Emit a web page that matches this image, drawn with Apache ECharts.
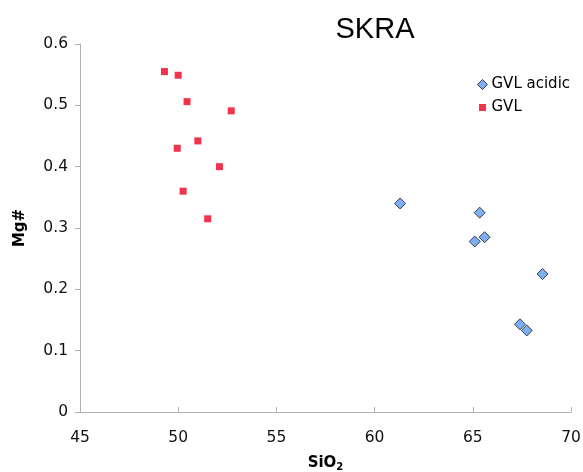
<!DOCTYPE html>
<html>
<head>
<meta charset="utf-8">
<script src="https://cdn.jsdelivr.net/npm/echarts@6/dist/echarts.min.js"></script>
<style>
  html, body { margin: 0; padding: 0; background: #fff; }
  #chart { width: 583px; height: 472px; }
</style>
</head>
<body>
<div id="chart"></div>
<script>
// SiO2 (wt%) vs Mg# for the SKRA samples
const gvlAcidicSiO2 = [61.3, 65.35, 65.6, 65.1, 68.55, 67.4, 67.75];
const gvlAcidicMg   = [0.340, 0.325, 0.285, 0.278, 0.225, 0.143, 0.133];

const gvlSiO2 = [49.3, 50.0, 50.45, 52.7, 51.0, 49.95, 52.1, 50.25, 51.5];
const gvlMg   = [0.555, 0.549, 0.506, 0.491, 0.442, 0.430, 0.400, 0.360, 0.315];

const xTicks = [45, 50, 55, 60, 65, 70];
const yTicks = [0, 0.1, 0.2, 0.3, 0.4, 0.5, 0.6];

const pairs = (xs, ys) => xs.map((x, i) => [x, ys[i]]);

const font = '"DejaVu Sans", Verdana, sans-serif';
// small square centred in a 10x10 legend box
const smallSquare = 'path://M0,0M10,10M1.5,1.5L8.5,1.5L8.5,8.5L1.5,8.5Z';

const chart = echarts.init(document.getElementById('chart'));
chart.setOption({
  animation: false,
  backgroundColor: '#fff',
  title: {
    text: 'SKRA',
    left: 370, top: 10, textAlign: 'center',
    textStyle: { fontFamily: '"Liberation Sans", Arial, sans-serif', fontSize: 29, fontWeight: 'normal', color: '#000' }
  },
  legend: {
    orient: 'vertical',
    left: 472, top: 72,
    itemGap: 8,
    itemWidth: 10, itemHeight: 10,
    textStyle: { fontFamily: font, fontSize: 15, color: '#000', padding: [0, 0, 0, -1] },
    data: [
      { name: 'GVL acidic', icon: 'diamond', itemStyle: { color: '#5b9bf0', borderColor: '#1a1a1a', borderWidth: 1 } },
      { name: 'GVL', icon: smallSquare, itemStyle: { color: '#ee0020', borderWidth: 0 } }
    ]
  },
  grid: { left: 80, right: 12, top: 44, bottom: 60, containLabel: false, outerBoundsMode: 'none' },
  xAxis: {
    type: 'value',
    min: xTicks[0], max: xTicks[xTicks.length - 1], interval: 5,
    name: '{a|SiO}{b|2}',
    nameLocation: 'middle', nameGap: 42,
    nameTextStyle: {
      rich: {
        a: { fontFamily: font, fontSize: 15, fontWeight: 'bold', color: '#000' },
        b: { fontFamily: font, fontSize: 10, fontWeight: 'bold', color: '#000', verticalAlign: 'bottom', padding: [8, 0, 0, 0] }
      }
    },
    axisLine: { lineStyle: { color: '#b0b0b0' } },
    axisTick: { inside: true, length: 5, lineStyle: { color: '#b0b0b0' } },
    axisLabel: { fontFamily: font, fontSize: 15.5, color: '#111', margin: 18 },
    splitLine: { show: false }
  },
  yAxis: {
    type: 'value',
    min: yTicks[0], max: yTicks[yTicks.length - 1], interval: 0.1,
    name: 'Mg#',
    nameLocation: 'middle', nameGap: 52, nameRotate: 90,
    nameTextStyle: { fontFamily: font, fontSize: 15, fontWeight: 'bold', color: '#000' },
    axisLine: { show: true, lineStyle: { color: '#b0b0b0' } },
    axisTick: { show: true, length: 5, lineStyle: { color: '#b0b0b0' } },
    axisLabel: { fontFamily: font, fontSize: 15.5, color: '#111', margin: 12 },
    splitLine: { show: false }
  },
  series: [
    {
      name: 'GVL acidic',
      type: 'scatter',
      symbol: 'diamond',
      symbolSize: 11,
      itemStyle: { color: '#5b9bf0', borderColor: '#1a1a1a', borderWidth: 1 },
      data: pairs(gvlAcidicSiO2, gvlAcidicMg)
    },
    {
      name: 'GVL',
      type: 'scatter',
      symbol: 'rect',
      symbolSize: 7,
      itemStyle: { color: '#ee0020' },
      data: pairs(gvlSiO2, gvlMg)
    }
  ]
});
</script>
</body>
</html>
